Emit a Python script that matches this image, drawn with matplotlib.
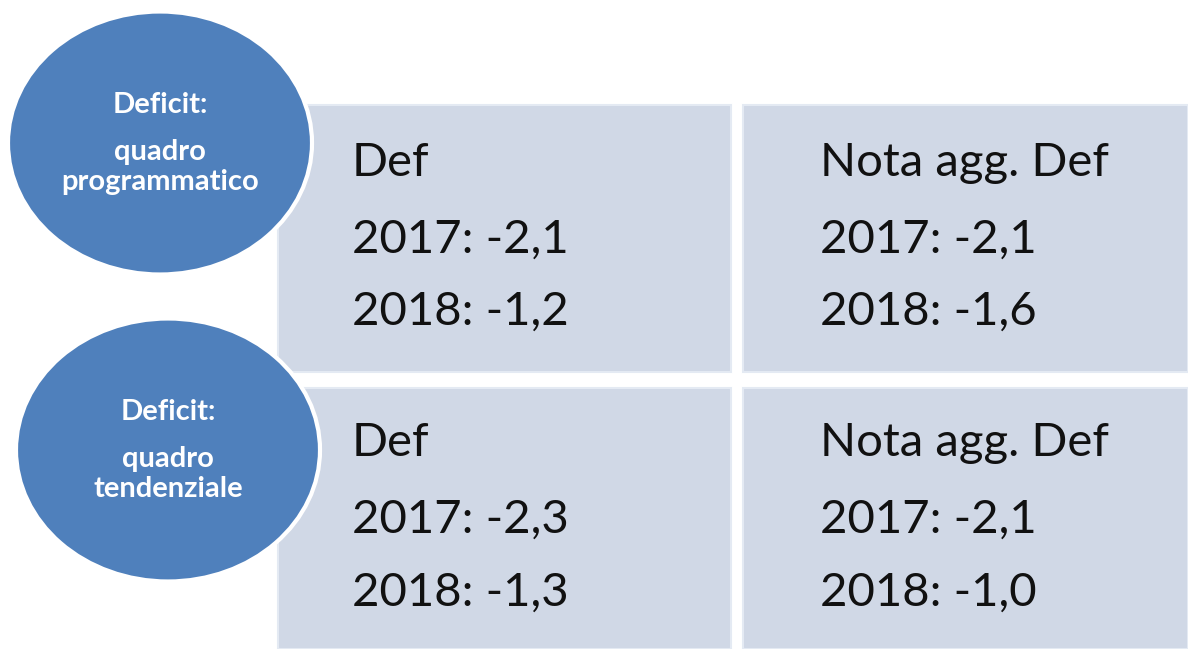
import matplotlib.pyplot as plt
from matplotlib.patches import Rectangle, Ellipse

# data
row_titles = [['Deficit:', 'quadro', 'programmatico'], ['Deficit:', 'quadro', 'tendenziale']]
col_titles = ['Def', 'Nota agg. Def']
years = ['2017', '2018']
values = [
    [[-2.1, -1.2], [-2.1, -1.6]],   # programmatico: Def, Nota agg. Def
    [[-2.3, -1.3], [-2.1, -1.0]],   # tendenziale
]

W, H = 1188, 649
fig = plt.figure(figsize=(W / 100, H / 100), dpi=100)
ax = fig.add_axes([0, 0, 1, 1])
ax.set_xlim(0, W)
ax.set_ylim(H, 0)
ax.axis('off')

box_col = '#d0d8e6'
circ_col = '#4f80bc'

# boxes: (x0, x1) per column, (y0, y1) per row
col_x = [(278, 731), (743, 1188)]
row_y = [(105, 372), (388, 649)]
text_x = [352, 820]
row_text_y = [(163, 240, 312), (443, 520, 593)]

for r in range(2):
    for c in range(2):
        x0, x1 = col_x[c]
        y0, y1 = row_y[r]
        ax.add_patch(Rectangle((x0, y0), x1 - x0, y1 - y0, facecolor=box_col,
                               edgecolor='#e4eaf3', linewidth=1.5, zorder=1))
        lines = [col_titles[c]] + [
            '%s: %s' % (years[k], ('%.1f' % values[r][c][k]).replace('.', ','))
            for k in range(2)]
        for line, y in zip(lines, row_text_y[r]):
            ax.text(text_x[c], y, line, fontsize=34, family='Lato', color='#111111',
                    ha='left', va='center', zorder=3)

# circles
circ_c = [(160, 143), (168, 450)]
line_off = [-38, 9, 39]
for r in range(2):
    cx, cy = circ_c[r]
    ax.add_patch(Ellipse((cx, cy), 304, 263, facecolor=circ_col,
                         edgecolor='white', linewidth=3, zorder=2))
    for t, off in zip(row_titles[r], line_off):
        ax.text(cx, cy + off, t, fontsize=21, family='Lato', color='white',
                ha='center', va='center', fontweight='bold', zorder=3)

fig.savefig('out.png', dpi=100, facecolor='white')
